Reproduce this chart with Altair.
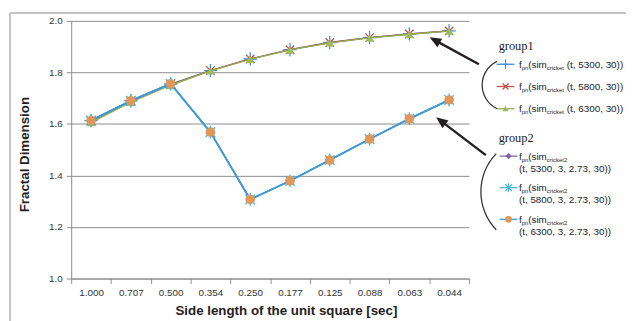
import altair as alt
import pandas as pd
import math

# ---------------- data ----------------
categories = ["1.000", "0.707", "0.500", "0.354", "0.250", "0.177", "0.125", "0.088", "0.063", "0.044"]

g1_5300 = [1.613, 1.690, 1.755, 1.807, 1.852, 1.888, 1.916, 1.935, 1.949, 1.961]
g1_5800 = [1.611, 1.688, 1.753, 1.807, 1.852, 1.888, 1.916, 1.935, 1.949, 1.961]
g1_6300 = [1.605, 1.684, 1.750, 1.806, 1.851, 1.887, 1.915, 1.934, 1.948, 1.960]
g2_5300 = [1.613, 1.690, 1.756, 1.568, 1.307, 1.379, 1.460, 1.541, 1.620, 1.693]
g2_5800 = [1.613, 1.690, 1.756, 1.568, 1.307, 1.379, 1.460, 1.541, 1.620, 1.693]
g2_6300 = [1.613, 1.690, 1.756, 1.568, 1.307, 1.379, 1.460, 1.541, 1.620, 1.693]

y_ticks = [1.0, 1.2, 1.4, 1.6, 1.8, 2.0]

group_titles = ["group1", "group2"]
g1_labels = ["(t, 5300, 30))", "(t, 5800, 30))", "(t, 6300, 30))"]
g2_labels = ["(t, 5300, 3, 2.73, 30))", "(t, 5800, 3, 2.73, 30))", "(t, 6300, 3, 2.73, 30))"]

# ---------------- styles / layout ----------------
W, H = 403, 261
PAD_L, PAD_T = 64, 11
TOTAL_W, TOTAL_H = 626, 313
FONT = "Liberation Sans"

PLUS = "M-1,0L1,0M0,-1L0,1"
XMARK = "M-0.7,-0.7L0.7,0.7M-0.7,0.7L0.7,-0.7"
ASTER = "M0,-1L0,1M-0.75,-0.75L0.75,0.75M-0.75,0.75L0.75,-0.75"

series = [
    # values, line colour, marker colour, shape, filled, size, line width
    (g1_5300, "#3D8FD8", "#3D8FD8", PLUS, False, 180, 1.3),
    (g1_5800, "#C0504D", "#C0504D", XMARK, False, 150, 1.3),
    (g1_6300, "#8FB04F", "#9BBB59", "triangle-up", True, 75, 1.3),
    (g2_5300, "#8064A2", "#8064A2", "diamond", True, 80, 1.6),
    (g2_5800, "#45B5D6", "#45B5D6", ASTER, False, 170, 1.6),
    (g2_6300, "#3B99D9", "#E0975A", "circle", True, 95, 1.6),
]

# legend marker positions (page px)
leg_pos = [(512, 63), (512, 85.5), (512, 108), (515, 156), (515, 188), (515, 220)]
leg_text_x = 525.5


def vx(px):
    return px - 8 - PAD_L


def vy(py):
    return py - 8 - PAD_T


AW = {'f': 278, 'p': 556, 'n': 556, '(': 333, ')': 333, 's': 500, 'i': 222, 'm': 833,
      'c': 500, 'r': 333, 'k': 500, 'e': 556, 't': 278, ',': 278, ' ': 278, '.': 278}


def tw(s, fs):
    return sum(AW.get(ch, 556) for ch in s) * fs / 1000.0


MAIN_FS, SUB_FS = 10, 6

text_rows = []


def add_pieces(x, ycenter, pieces):
    base = ycenter + 3.6
    for txt, sub in pieces:
        fs = SUB_FS if sub else MAIN_FS
        yb = base + (2.0 if sub else 0.0)
        stripped = txt.lstrip(" ")
        x += tw(txt[: len(txt) - len(stripped)], fs)
        text_rows.append({"x": vx(x), "y": vy(yb), "text": stripped, "fs": fs})
        x += tw(stripped, fs)


for i, lab in enumerate(g1_labels):
    add_pieces(leg_text_x, leg_pos[i][1],
               [("f", False), ("pn", True), ("(sim", False), ("cricket", True), (" " + lab, False)])
for i, lab in enumerate(g2_labels):
    yc = leg_pos[3 + i][1]
    add_pieces(leg_text_x, yc,
               [("f", False), ("pn", True), ("(sim", False), ("cricket2", True)])
    add_pieces(leg_text_x, yc + 12, [(lab, False)])

text_df = pd.DataFrame(text_rows)

# ---------------- main chart ----------------
xenc = alt.X("side:N", sort=categories,
             scale=alt.Scale(type="band", paddingInner=0, paddingOuter=0),
             axis=alt.Axis(title="Side length of the unit square [sec]", tickBand="extent",
                           labelAngle=0, labelFont=FONT, labelFontSize=10, labelColor="#333",
                           labelPadding=4, tickSize=5, tickColor="#8c8c8c", domainColor="#8c8c8c",
                           titleFont=FONT, titleFontSize=13.5, titleFontWeight="bold",
                           titleColor="#222", titleX=217.5, titleY=36, titleAlign="center",
                           titleBaseline="alphabetic", grid=False))
yenc = alt.Y("value:Q", scale=alt.Scale(domain=[1.0, 2.0], nice=False, zero=False),
             axis=alt.Axis(title="Fractal Dimension", values=y_ticks, format=".1f",
                           labelFont=FONT, labelFontSize=10, labelColor="#333", labelPadding=4,
                           tickSize=5, tickColor="#8c8c8c", domainColor="#8c8c8c",
                           gridColor="#8c8c8c", gridWidth=1,
                           titleFont=FONT, titleFontSize=13.5, titleFontWeight="bold",
                           titleColor="#222", titleX=-47, titleY=135, titleAngle=270,
                           titleAlign="center", titleBaseline="middle"))

layers = []

# frame
frame = pd.DataFrame({"a": [0]})
layers.append(alt.Chart(frame).mark_rule(color="#c4c4c4", strokeWidth=2).encode(
    x=alt.value(vx(10)), x2=alt.value(vx(634)), y=alt.value(vy(11))))
layers.append(alt.Chart(frame).mark_rule(color="#c4c4c4", strokeWidth=2).encode(
    x=alt.value(vx(10)), y=alt.value(vy(11)), y2=alt.value(vy(330))))

for idx, (vals, lcol, mcol, shape, filled, size, lw) in enumerate(series):
    df = pd.DataFrame({"side": categories, "value": vals})
    base = alt.Chart(df)
    layers.append(base.mark_line(color=lcol, strokeWidth=lw).encode(x=xenc, y=yenc))
    if filled:
        pm = base.mark_point(shape=shape, filled=True, size=size, color=mcol, opacity=1)
    else:
        pm = base.mark_point(shape=shape, filled=False, size=size, color=mcol, opacity=1,
                             strokeWidth=1.3)
    layers.append(pm.encode(x=xenc, y=yenc))

# legend symbols
for idx, (vals, lcol, mcol, shape, filled, size, lw) in enumerate(series):
    px, py = leg_pos[idx]
    ldf = pd.DataFrame({"x": [vx(px - 9)], "x2": [vx(px + 9)], "y": [vy(py)],
                        "mx": [vx(px)]})
    layers.append(alt.Chart(ldf).mark_rule(color=lcol, strokeWidth=1.3).encode(
        x=alt.X("x:Q", scale=None, axis=None), x2="x2:Q",
        y=alt.Y("y:Q", scale=None, axis=None)))
    if filled:
        pm = alt.Chart(ldf).mark_point(shape=shape, filled=True, size=size * 0.5, color=mcol, opacity=1)
    else:
        pm = alt.Chart(ldf).mark_point(shape=shape, filled=False, size=size * 0.5, color=mcol,
                                       opacity=1, strokeWidth=1.2)
    layers.append(pm.encode(x=alt.X("mx:Q", scale=None, axis=None),
                            y=alt.Y("y:Q", scale=None, axis=None)))

# legend text
layers.append(alt.Chart(text_df).mark_text(align="left", baseline="alphabetic", font=FONT,
                                           color="#222").encode(
    x=alt.X("x:Q", scale=None, axis=None), y=alt.Y("y:Q", scale=None, axis=None),
    text="text:N", size=alt.Size("fs:Q", scale=None, legend=None)))

title_df = pd.DataFrame({"x": [vx(505), vx(505)], "y": [vy(45), vy(138)], "text": group_titles})
layers.append(alt.Chart(title_df).mark_text(align="left", baseline="middle",
                                            font="Liberation Serif", fontSize=12.5,
                                            color="#222").encode(
    x=alt.X("x:Q", scale=None, axis=None), y=alt.Y("y:Q", scale=None, axis=None), text="text:N"))

# brackets
brackets = [(515.0, 84.0, 26.7, 206, 334), (542.5, 192.0, 55.5, 226, 314)]
for cx, cy, r, t1, t2 in brackets:
    layers.append(alt.Chart(frame).mark_arc(theta=math.radians(t1), theta2=math.radians(t2),
                                            radius=r + 0.65, radius2=r - 0.65,
                                            color="#333").encode(
        x=alt.value(vx(cx)), y=alt.value(vy(cy))))

# arrows
HEAD = "M0,0L-0.42,1L0.42,1Z"
arrows = [((485, 63), (435, 35.7)), ((492, 155), (441.7, 116.7))]
for (sx, sy), (tx, ty) in arrows:
    dx, dy = tx - sx, ty - sy
    n = math.hypot(dx, dy)
    ux, uy = dx / n, dy / n
    ex, ey = tx - ux * 8, ty - uy * 8
    ang = math.degrees(math.atan2(ux, -uy)) % 360
    layers.append(alt.Chart(frame).mark_rule(color="#231F20", strokeWidth=2.4).encode(
        x=alt.value(vx(sx)), y=alt.value(vy(sy)), x2=alt.value(vx(ex)), y2=alt.value(vy(ey))))
    layers.append(alt.Chart(frame).mark_point(shape=HEAD, filled=True, size=560, angle=ang,
                                              color="#231F20", opacity=1).encode(
        x=alt.value(vx(tx)), y=alt.value(vy(ty))))

chart = alt.layer(*layers).properties(
    width=W, height=H,
    padding={"left": PAD_L, "top": PAD_T, "right": TOTAL_W - W - PAD_L,
             "bottom": TOTAL_H - H - PAD_T},
    autosize=alt.AutoSizeParams(type="none"),
    background="white",
).configure_view(stroke=None)

chart.save("out.html", embed_options={"renderer": "svg", "actions": False})
